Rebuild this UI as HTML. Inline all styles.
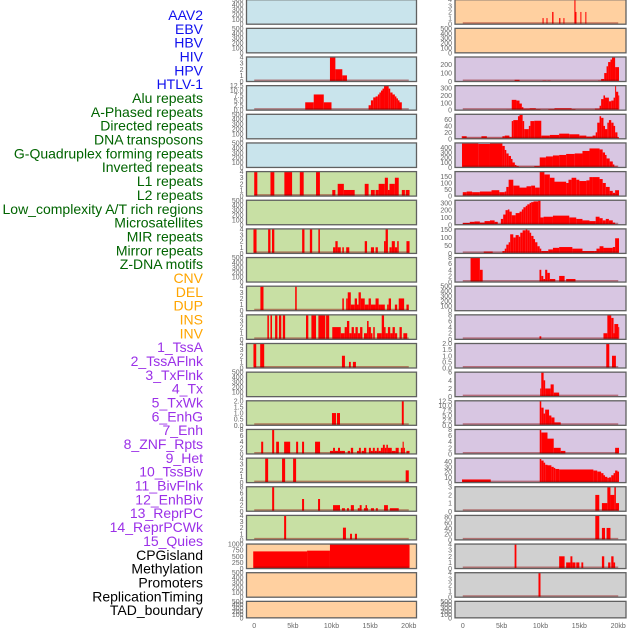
<!DOCTYPE html>
<html><head><meta charset="utf-8"><style>
html,body{margin:0;padding:0;background:#fff;}
svg{display:block;font-family:"Liberation Sans",sans-serif;}
</style></head><body>
<svg id="chart" width="630" height="630" viewBox="0 0 630 630" xmlns="http://www.w3.org/2000/svg"></svg>
<script>
// ---------- data ----------
const trackLabels = ["AAV2","EBV","HBV","HIV","HPV","HTLV-1","Alu repeats","A-Phased repeats","Directed repeats","DNA transposons","G-Quadruplex forming repeats","Inverted repeats","L1 repeats","L2 repeats","Low_complexity A/T rich regions","Microsatellites","MIR repeats","Mirror repeats","Z-DNA motifs","CNV","DEL","DUP","INS","INV","1_TssA","2_TssAFlnk","3_TxFlnk","4_Tx","5_TxWk","6_EnhG","7_Enh","8_ZNF_Rpts","9_Het","10_TssBiv","11_BivFlnk","12_EnhBiv","13_ReprPC","14_ReprPCWk","15_Quies","CPGisland","Methylation","Promoters","ReplicationTiming","TAD_boundary"];
const labelGroups = ["v","v","v","v","v","v","r","r","r","r","r","r","r","r","r","r","r","r","r","s","s","s","s","s","c","c","c","c","c","c","c","c","c","c","c","c","c","c","c","o","o","o","o","o"];
const xTickValues = [0,5,10,15,20];
const xTickLabels = ["0","5kb","10kb","15kb","20kb"];
const E = ["0","100","200","300","400","500"];
const leftYmax = [500,500,4,12.5,500,500,4,500,4,500,4,4,4,500,2,8,4,8,4,1000,500,500];
const leftTicks = [E,E,["0","1","2","3","4"],["0.0","2.5","5.0","7.5","10.0","12.5"],E,E,["0","1","2","3","4"],E,["0","1","2","3","4"],E,["0","1","2","3","4"],["0","1","2","3","4"],["0","1","2","3","4"],E,["0.0","0.5","1.0","1.5","2.0"],["0","2","4","6","8"],["0","1","2","3","4"],["0","2","4","6","8"],["0","1","2","3","4"],["0","250","500","750","1000"],E,E];
const leftBars = [
 [],[],
 [[9.8,10.5,4],[10.5,11.4,2],[11.4,12.0,1]],
 [[6.6,7.7,4],[7.7,9.0,8],[9.0,10.0,4],[14.8,15.1,2.5],[15.1,15.4,5],[15.4,15.7,6.5],[15.7,16.0,7],[16.0,16.2,8],[16.2,16.4,9],[16.4,16.6,10],[16.6,16.8,11],[16.8,17.4,12.5],[17.4,17.6,11],[17.6,17.9,9],[17.9,18.2,8],[18.2,18.4,7],[18.4,18.6,6],[18.6,18.8,5],[18.8,19.1,4]],
 [],[],
 [[0,0.4,4],[2.1,2.6,4],[3.9,4.9,4],[5.9,6.4,4],[8.0,8.5,4],[10.1,10.5,1],[10.8,11.6,2],[11.6,13.0,1],[14.3,14.8,2],[15.1,15.6,1],[15.7,16.1,1],[16.1,16.9,2],[16.9,17.3,3],[17.3,17.5,1],[17.5,18.2,2],[18.2,18.7,3],[19.1,19.5,1],[19.6,20.1,1]],
 [],
 [[-0.1,0.3,4],[1.8,2.1,4],[2.3,2.6,4],[6.2,6.5,4],[7.2,7.5,4],[8.3,8.5,4],[10.2,10.5,1],[10.5,10.8,2],[10.8,11.2,1],[11.4,11.6,1],[11.9,12.3,1],[14.3,14.6,2],[15.1,15.5,1],[15.7,16.0,1],[16.8,17.0,2],[17.0,17.3,4],[17.5,17.8,1],[17.8,18.2,2],[18.2,18.5,1],[18.5,18.7,2],[19.7,20.1,2]],
 [],
 [[0.8,1.2,4],[5.3,5.5,4],[11.4,11.6,2],[11.9,12.1,2],[12.1,12.5,3],[12.5,13.0,1],[13.0,13.3,2],[13.3,13.5,1],[13.5,13.8,3],[13.8,14.3,2],[14.3,14.8,1],[14.8,15.1,2],[15.1,15.7,1],[15.7,16.1,2],[16.1,16.4,1],[16.4,16.9,1],[17.2,17.4,1],[17.4,17.7,2],[18.2,18.5,1],[18.7,19.4,2],[19.7,20.0,1]],
 [[1.7,1.9,4],[2.1,2.3,4],[2.7,3.0,4],[3.2,3.5,4],[3.7,4.0,4],[6.7,7.0,4],[7.4,8.0,4],[8.3,9.2,4],[9.3,9.7,4],[10.1,11.2,2],[11.2,11.7,1],[11.7,12.0,2],[12.0,12.3,3],[12.3,12.6,1],[12.6,12.9,2],[12.9,13.1,1],[13.1,13.4,2],[13.4,13.7,1],[13.7,14.0,2],[14.2,14.6,1],[14.6,14.8,3],[14.8,15.1,2],[15.1,15.3,1],[15.4,15.6,2],[15.9,16.5,1],[16.5,16.8,4],[16.8,17.0,2],[17.0,17.3,1],[17.3,17.6,2],[17.6,17.9,1],[17.9,18.2,2],[18.2,18.5,1],[18.8,19.1,2],[19.3,19.8,1]],
 [[-0.1,0.26,4],[0.77,1.29,4],[11.35,11.74,2],[12.26,12.5,1],[12.77,13.16,1]],
 [],
 [[10.06,10.58,1],[10.7,11.1,1],[19.1,19.35,2]],
 [[0.9,1.16,4],[2.32,2.58,8],[2.84,3.2,4],[3.87,4.65,4],[5.42,5.68,4],[6.19,6.45,4],[7.87,8.52,4],[9.8,10.2,1],[10.2,10.45,2],[10.45,10.84,1],[10.84,11.1,2],[11.1,11.35,1],[11.35,11.74,1],[12.1,12.4,1],[12.5,12.8,2],[13.3,13.55,1],[13.55,13.8,2],[13.9,14.2,1],[14.2,14.5,2],[14.84,15.1,2],[15.1,15.35,1],[15.35,15.6,2],[15.6,15.87,1],[15.87,16.1,2],[16.1,16.39,1],[16.39,16.65,2],[16.65,16.9,3],[16.9,17.1,2],[17.1,17.3,3],[17.3,17.8,2],[17.8,18.3,1],[18.3,18.7,2],[18.97,19.2,2],[19.2,19.35,4],[19.35,19.5,2],[19.7,20.1,1]],
 [[1.42,1.8,4],[3.6,4.0,4],[5.03,5.42,4],[19.6,20.0,2]],
 [[2.32,2.58,8],[6.19,6.45,4],[8.26,8.52,4],[10.2,11.1,2],[11.35,11.74,1],[12.0,12.26,1],[12.5,12.9,2],[13.4,13.65,1],[13.65,13.9,2],[14.2,14.4,1],[14.4,14.6,2],[14.6,14.7,1],[15.1,15.5,1],[15.74,16.0,1],[16.8,17.3,2],[17.55,18.7,1]],
 [[3.87,4.13,4],[11.48,11.87,2],[12.4,12.65,1],[13.03,13.3,1]],
 [[-0.13,6.84,700],[6.84,9.8,730],[9.8,20.1,1000]],
 [],[]
];
const rightYmax = [4,500,290,333,76,490,187,336,154,8,500,8,2,6,12.5,8,46.7,3,86,4,4,500];
const rightTicks = [["0","1","2","3","4"],E,["0","100","200"],["0","100","200","300"],["0","20","40","60"],["0","100","200","300","400"],["0","50","100","150"],["0","100","200","300"],["0","50","100","150"],["0","2","4","6","8"],E,["0","2","4","6","8"],["0.0","0.5","1.0","1.5","2.0"],["0","2","4","6"],["0.0","2.5","5.0","7.5","10.0","12.5"],["0","2","4","6","8"],["0","10","20","30","40"],["0","1","2","3"],["0","20","40","60","80"],["0","1","2","3","4"],["0","1","2","3","4"],E];
const rightBars = [
 [[10.26,10.4,1],[10.77,10.9,1],[11.5,11.67,2],[12.4,12.56,1],[12.95,13.07,1],[14.36,14.5,4],[14.5,14.62,2],[15.13,15.26,2],[15.77,15.9,2]],
 [],
 [[6.67,7.3,20],[10.26,10.77,10],[10.9,11.3,10],[17.4,17.8,10],[17.8,18.2,30],[18.2,18.5,100],[18.5,18.7,180],[18.7,19.0,230],[19.0,19.2,260],[19.2,19.6,290],[19.6,20.1,170]],
 [[5.6,6.15,10],[6.3,6.9,140],[6.9,7.3,130],[7.3,7.6,90],[7.6,7.8,40],[7.8,8.6,20],[8.6,9.4,25],[9.4,10.0,15],[10.0,11.0,10],[11.0,11.8,15],[11.8,14.0,25],[14.0,14.5,15],[14.5,17.0,10],[17.0,17.6,20],[17.6,17.8,60],[17.8,18.1,150],[18.1,18.3,200],[18.3,18.8,170],[18.8,19.1,120],[19.1,19.4,130],[19.4,19.6,170],[19.6,19.7,340],[19.7,20.0,250],[20.0,20.1,200]],
 [[-0.13,0.5,8],[0.5,2.4,3],[2.4,3.1,8],[3.1,5.1,3],[5.1,5.4,8],[5.4,6.0,10],[6.0,6.3,5],[6.3,6.5,55],[6.5,7.1,58],[7.1,7.3,70],[7.3,7.7,75],[7.7,7.9,55],[7.9,8.5,30],[8.5,8.7,40],[8.7,9.2,55],[9.2,10.1,56],[10.1,11.2,10],[11.2,12.4,12],[12.4,13.7,16],[13.7,15.0,14],[15.0,15.9,10],[15.9,16.7,7],[16.7,17.1,10],[17.1,17.3,20],[17.3,17.6,50],[17.6,17.8,70],[17.8,18.1,65],[18.1,18.3,40],[18.3,18.6,30],[18.6,18.8,50],[18.8,19.1,58],[19.1,19.4,50],[19.4,19.6,40],[19.6,19.9,20],[19.9,20.1,5]],
 [[-0.1,2.0,480],[2.0,3.5,470],[3.5,5.1,480],[5.1,5.4,430],[5.4,5.6,350],[5.6,5.9,280],[5.9,6.2,230],[6.2,6.4,170],[6.4,6.7,100],[6.7,6.9,50],[6.9,7.2,30],[7.2,9.2,15],[9.2,9.9,30],[9.9,10.7,200],[10.7,11.6,220],[11.6,12.4,240],[12.4,13.3,250],[13.3,14.4,270],[14.4,15.4,280],[15.4,16.3,330],[16.3,17.6,380],[17.6,18.0,360],[18.0,18.3,300],[18.3,18.5,250],[18.5,18.9,180],[18.9,19.3,120],[19.3,19.5,60],[19.5,19.9,20]],
 [[0,0.5,30],[0.5,1.2,35],[1.2,2.2,30],[2.2,3.7,35],[3.7,4.7,45],[4.7,5.4,30],[5.4,5.6,35],[5.6,5.9,70],[5.9,6.5,125],[6.5,7.3,80],[7.3,8.2,65],[8.2,8.8,75],[8.8,9.3,80],[9.3,9.9,65],[9.9,10.5,185],[10.5,11.2,165],[11.2,11.8,140],[11.8,13.3,110],[13.3,13.6,100],[13.6,14.0,125],[14.0,14.6,140],[14.6,15.0,125],[15.0,15.9,115],[15.9,16.3,120],[16.3,16.7,145],[16.7,17.6,145],[17.6,18.0,130],[18.0,18.4,100],[18.4,18.9,70],[18.9,19.3,40],[19.3,19.6,25],[19.6,20.1,45]],
 [[0,0.9,25],[0.9,1.5,40],[1.5,2.2,45],[2.2,2.8,30],[2.8,3.5,50],[3.5,4.1,60],[4.1,4.5,40],[4.5,4.9,10],[4.9,5.2,80],[5.2,5.5,140],[5.5,5.8,200],[5.8,6.0,210],[6.0,6.3,180],[6.3,6.8,130],[6.8,7.3,160],[7.3,7.6,180],[7.6,7.8,210],[7.8,8.1,240],[8.1,8.3,260],[8.3,8.6,280],[8.6,8.8,300],[8.8,9.1,310],[9.1,9.7,320],[9.7,10.0,335],[10.0,10.4,100],[10.4,11.6,110],[11.6,13.7,125],[13.7,14.6,100],[14.6,15.4,80],[15.4,16.3,60],[16.3,17.1,50],[17.1,17.6,110],[17.6,18.0,90],[18.0,18.4,60],[18.4,18.8,80],[18.8,19.3,60],[19.3,19.6,30],[19.6,19.9,10]],
 [[0,2.7,3],[2.7,3.85,12],[3.85,5.1,3],[5.1,5.4,15],[5.4,5.6,30],[5.6,5.9,55],[5.9,6.1,70],[6.1,6.5,120],[6.5,6.8,100],[6.8,7.2,115],[7.2,7.4,105],[7.4,7.7,130],[7.7,8.1,145],[8.1,8.3,150],[8.3,8.6,145],[8.6,8.8,130],[8.8,9.1,110],[9.1,9.3,90],[9.3,9.6,70],[9.6,9.9,45],[9.9,10.1,30],[10.1,11.0,15],[11.0,11.6,25],[11.6,12.4,35],[12.4,14.1,40],[14.1,15.4,30],[15.4,16.9,15],[16.9,17.2,15],[17.2,17.6,30],[17.6,18.1,45],[18.1,19.3,35],[19.3,19.6,40],[19.6,20.1,95]],
 [[1.0,2.2,8],[2.2,2.56,4],[9.87,10.1,4],[10.1,10.36,2],[10.36,10.6,1],[10.6,10.87,4],[10.87,11.2,3],[11.2,11.9,1],[12.4,13.1,2],[13.3,14.5,1]],
 [],
 [[9.87,10.1,1],[18.1,18.6,2],[18.6,19.1,8],[19.1,19.4,7],[19.4,19.5,2],[19.5,20.0,5],[20.0,20.1,4]],
 [[18.46,18.85,2],[19.2,19.7,1]],
 [[9.96,10.1,2],[10.1,10.4,6],[10.4,10.6,4],[10.6,11.3,2],[11.3,11.7,3],[11.7,12.4,1]],
 [[9.9,10.1,12.5],[10.1,10.4,9],[10.4,10.6,6],[10.6,11.1,8],[11.1,11.4,5],[11.4,11.8,4],[11.8,12.6,1.5]],
 [[9.9,10.1,8],[10.1,10.9,7],[10.9,11.7,5],[11.7,12.6,2],[12.6,13.2,1],[19.6,20.1,2]],
 [[-0.1,3.6,6],[9.9,10.1,45],[10.1,10.4,42],[10.4,10.6,38],[10.6,10.9,34],[10.9,11.4,33],[11.4,11.7,30],[11.7,11.9,28],[11.9,12.4,26],[12.4,16.8,25],[16.8,17.3,23],[17.3,17.8,21],[17.8,18.1,18],[18.1,18.3,14],[18.3,18.6,11],[18.6,18.8,9],[18.8,19.1,10],[19.1,19.4,14],[19.4,19.6,18],[19.6,19.9,23],[19.9,20.1,21]],
 [[17.05,17.56,2],[17.9,18.3,1],[18.3,18.6,1],[18.6,19.0,3],[19.0,19.5,2],[19.5,19.7,3],[19.7,20.1,1]],
 [[17.05,17.56,86],[17.9,18.3,42],[18.5,19.0,42]],
 [[6.67,6.9,4],[12.4,13.1,2],[13.3,13.85,1],[13.85,14.1,2],[14.1,14.5,1],[14.6,15.0,1],[15.26,15.5,1],[17.9,18.2,2],[18.7,19.0,1],[19.1,19.4,2],[19.4,19.6,1]],
 [[9.74,10.0,4]],
 []
];
// ---------- styles ----------
const groupColor = {v:"#1010ee",r:"#006400",s:"#ffa500",c:"#9b30e8",o:"#000000"};
const leftBg = ["#c9e4ec","#c9e4ec","#c9e4ec","#c9e4ec","#c9e4ec","#c9e4ec","#c8e0a4","#c8e0a4","#c8e0a4","#c8e0a4","#c8e0a4","#c8e0a4","#c8e0a4","#c8e0a4","#c8e0a4","#c8e0a4","#c8e0a4","#c8e0a4","#c8e0a4","#ffd0a0","#ffd0a0","#ffd0a0"];
const rightBg = ["#ffd0a0","#ffd0a0","#d8c6e2","#d8c6e2","#d8c6e2","#d8c6e2","#d8c6e2","#d8c6e2","#d8c6e2","#d8c6e2","#d8c6e2","#d8c6e2","#d8c6e2","#d8c6e2","#d8c6e2","#d8c6e2","#d8c6e2","#d0d0d0","#d0d0d0","#d0d0d0","#d0d0d0","#d0d0d0"];
const NS = "http://www.w3.org/2000/svg";
const svg = document.getElementById("chart");
function mk(tag, attrs, parent){const e=document.createElementNS(NS,tag);for(const k in attrs)e.setAttribute(k,attrs[k]);(parent||svg).appendChild(e);return e;}
const ROW = 28.65, PH = 24.5;
const cols = [{x:246.5,w:170,bg:leftBg,ymax:leftYmax,ticks:leftTicks,bars:leftBars,side:"left"},{x:455,w:171,bg:rightBg,ymax:rightYmax,ticks:rightTicks,bars:rightBars,side:"right"}];
const KMIN=-1, KMAX=21;
// labels
trackLabels.forEach((t,i)=>{
  const el = mk("text",{x:203,y:15+i*13.84+5,"text-anchor":"end","font-size":"14",fill:groupColor[labelGroups[i]]});
  el.textContent=t;
  
  
});
cols.forEach(c=>{
  const xs = kb => c.x + (kb-KMIN)/(KMAX-KMIN)*c.w;
  for(let r=0;r<22;r++){
    const top = r*ROW - 0.3;
    const h = r===21 ? 16.5 : PH;
    const g = mk("g",{});
    
    
    mk("rect",{x:c.x,y:top,width:c.w,height:h,fill:c.bg[r]},g);
    const ymax=c.ymax[r], bot=top+h;
    const ys = v => bot - v/ymax*h;
    c.bars[r].forEach(b=>{
      const x0=xs(b[0]), x1=xs(b[1]);
      const y=Math.max(top,ys(b[2]));
      const bar = mk("rect",{x:x0,y:y,width:Math.max(1,x1-x0),height:bot-y,fill:"#ff0000"},g);
      
      
    });
    if(c.bars[r].length){
      mk("line",{x1:xs(0),x2:xs(20),y1:bot-1,y2:bot-1,stroke:"rgba(140,0,0,0.45)","stroke-width":2},g);
    }
    mk("rect",{x:c.x,y:top,width:c.w,height:h,fill:"none",stroke:"#606060","stroke-width":1.3},g);
    c.ticks[r].forEach(t=>{
      const tx = mk("text",{x:c.x-3,y:ys(parseFloat(t))+2.5,"text-anchor":"end","font-size":"7",fill:"#666"},g);
      tx.textContent=t;
      
      
    });
  }
  xTickValues.forEach((v,i)=>{
    const tx = mk("text",{x:xs(v),y:628,"text-anchor":"middle","font-size":"7",fill:"#666"});
    tx.textContent=xTickLabels[i];
    
    
  });
});
</script>
</body></html>
